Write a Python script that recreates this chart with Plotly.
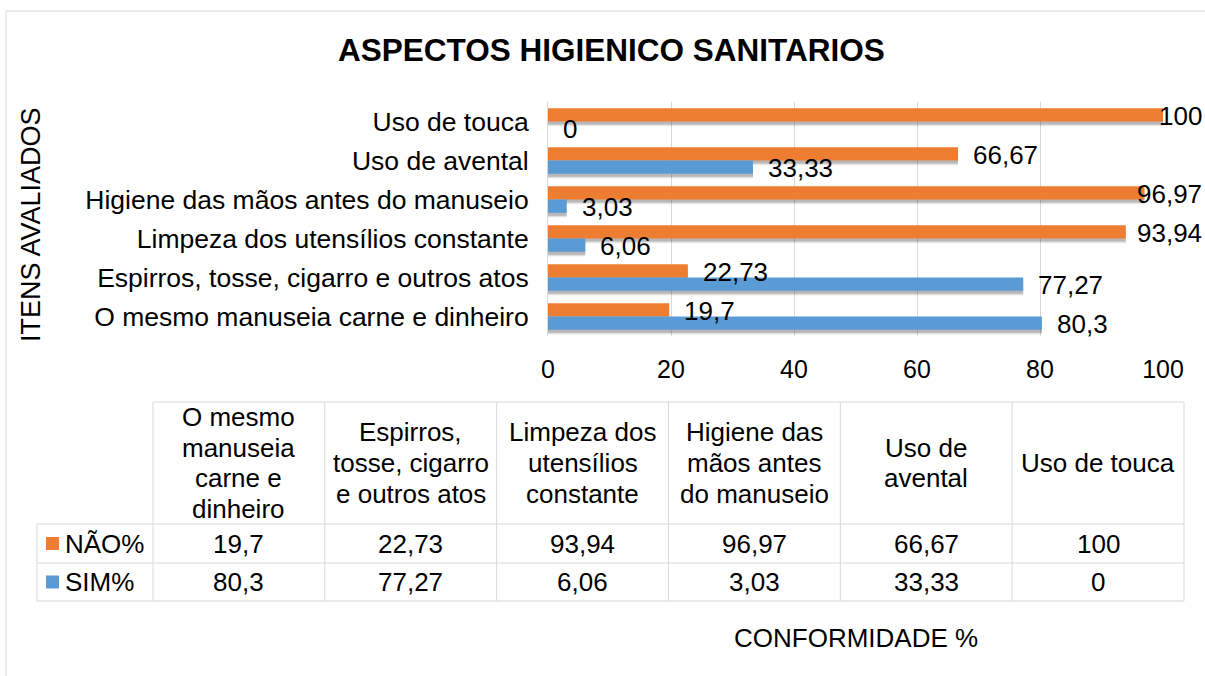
import plotly.graph_objects as go

# ---------------- data ----------------
categories = [
    "O mesmo manuseia carne e dinheiro",
    "Espirros, tosse, cigarro e outros atos",
    "Limpeza dos utensílios constante",
    "Higiene das mãos antes do manuseio",
    "Uso de avental",
    "Uso de touca",
]
header_labels = [
    "O mesmo<br>manuseia<br>carne e<br>dinheiro",
    "Espirros,<br>tosse, cigarro<br>e outros atos",
    "Limpeza dos<br>utensílios<br>constante",
    "Higiene das<br>mãos antes<br>do manuseio",
    "Uso de<br>avental",
    "Uso de touca",
]
nao_values = [19.7, 22.73, 93.94, 96.97, 66.67, 100]
sim_values = [80.3, 77.27, 6.06, 3.03, 33.33, 0]
series_names = ["NÃO%", "SIM%"]
x_ticks = [0, 20, 40, 60, 80, 100]
title_text = "ASPECTOS HIGIENICO SANITARIOS"
y_title = "ITENS AVALIADOS"
x_title = "CONFORMIDADE %"

# ---------------- styling / layout ----------------
W, H = 1205, 676
PL, PR, PT, PB = 548, 1163, 102, 336
FONT = "Liberation Sans, Arial, sans-serif"
ORANGE = "#ED7D31"
BLUE = "#5B9BD5"
GRID = "#D9D9D9"
TXT = "#000000"
BARGAP = 0.318
BAR_W = (1 - BARGAP) / 2          # thickness of one bar, in category units
N = len(categories)
cat_px = (PB - PT) / N
SHADOW_SHIFT = 3.0 / cat_px       # soft drop shadow 3 px below the bars


def fmt(v):
    return f"{v:g}".replace(".", ",")


def px(x):
    return (x - PL) / (PR - PL)


def py(y):
    return (PB - y) / (PB - PT)


fig = go.Figure()

# drop shadows (base subplot, y range shifted so they sit a few px lower)
for vals, off in ((nao_values, 0.0), (sim_values, -BAR_W)):
    for grow, alpha in ((0.0, 0.16), (0.05, 0.09), (0.10, 0.05)):
        fig.add_trace(go.Bar(y=categories, x=vals, orientation="h", yaxis="y",
                             width=BAR_W + grow, offset=off - grow / 2,
                             marker=dict(color=f"rgba(0,0,0,{alpha})", line=dict(width=0)),
                             hoverinfo="skip", showlegend=False))

# the bars themselves (overlay subplot, drawn on top)
fig.add_trace(go.Bar(y=categories, x=nao_values, orientation="h", yaxis="y2",
                     width=BAR_W, offset=0.0, name=series_names[0],
                     marker=dict(color=ORANGE, line=dict(width=0)), showlegend=False))
fig.add_trace(go.Bar(y=categories, x=sim_values, orientation="h", yaxis="y2",
                     width=BAR_W, offset=-BAR_W, name=series_names[1],
                     marker=dict(color=BLUE, line=dict(width=0)), showlegend=False))

annotations = []
shapes = []

# data labels (outside end, kept inside the chart area like Excel does)
bar_half = BAR_W / 2 * cat_px
LABEL_SIZE = 26
char_w = {",": 0.278}
for vals, sign in ((nao_values, 1), (sim_values, -1)):
    for c, v in zip(categories, vals):
        t = fmt(v)
        wpx = sum(char_w.get(ch, 0.556) for ch in t) * LABEL_SIZE
        start = PL + v / 100 * (PR - PL) + 14
        common = dict(y=c, yref="y2", text=t, yanchor="middle", showarrow=False,
                      yshift=sign * bar_half - 1,
                      font=dict(family=FONT, size=LABEL_SIZE, color=TXT))
        if start + wpx > W - 2:
            annotations.append(dict(x=px(W - 1), xref="paper", xanchor="right", **common))
        else:
            annotations.append(dict(x=v, xref="x", xanchor="left", xshift=13, **common))

# title / axis titles
annotations.append(dict(x=px(611), y=py(50), xref="paper", yref="paper", text=f"<b>{title_text}</b>",
                        showarrow=False, xanchor="center", yanchor="middle",
                        font=dict(family=FONT, size=31.5, color=TXT)))
annotations.append(dict(x=px(31), y=py(225), xref="paper", yref="paper", text=y_title, textangle=-90,
                        showarrow=False, xanchor="center", yanchor="middle",
                        font=dict(family=FONT, size=27, color=TXT)))
annotations.append(dict(x=px((PL + PR) / 2), y=py(638), xref="paper", yref="paper", text=x_title,
                        showarrow=False, xanchor="center", yanchor="middle",
                        font=dict(family=FONT, size=26, color=TXT)))

# ---------- data table ----------
T_TOP, T_HB, T_R1, T_BOT = 402, 524, 563, 601
T_LEG, T_X0, T_X1 = 37, 153, 1184
colw = (T_X1 - T_X0) / N
TBL_SIZE = 26
LINE_H = 30.5


def line(x0, y0, x1, y1, color=GRID):
    shapes.append(dict(type="line", xref="paper", yref="paper", x0=px(x0), y0=py(y0),
                       x1=px(x1), y1=py(y1), line=dict(color=color, width=1)))


line(T_X0, T_TOP, T_X1, T_TOP)
for yy in (T_HB, T_R1, T_BOT):
    line(T_LEG, yy, T_X1, yy)
line(T_LEG, T_HB, T_LEG, T_BOT)
for j in range(N + 1):
    xx = T_X0 + j * colw
    line(xx, T_TOP, xx, T_BOT)

hmid = (T_TOP + T_HB) / 2
for j, lab in enumerate(header_labels):
    cx = T_X0 + (j + 0.5) * colw
    parts = lab.split("<br>")
    n = len(parts)
    for k, part in enumerate(parts):
        yy = hmid + (k - (n - 1) / 2) * LINE_H
        annotations.append(dict(x=px(cx), y=py(yy), xref="paper", yref="paper", text=part,
                                showarrow=False, xanchor="center", yanchor="middle",
                                font=dict(family=FONT, size=TBL_SIZE, color=TXT)))

rows = [(series_names[0], nao_values, ORANGE), (series_names[1], sim_values, BLUE)]
row_bounds = [(T_HB, T_R1), (T_R1, T_BOT)]
for (name, vals, col), (r0, r1) in zip(rows, row_bounds):
    cy = (r0 + r1) / 2
    shapes.append(dict(type="rect", xref="paper", yref="paper", x0=px(46), x1=px(59),
                       y0=py(cy - 6.5), y1=py(cy + 6.5), fillcolor=col, line=dict(width=0)))
    annotations.append(dict(x=px(63), y=py(cy), xref="paper", yref="paper", text=name,
                            showarrow=False, xanchor="left", yanchor="middle",
                            font=dict(family=FONT, size=TBL_SIZE, color=TXT)))
    for j, v in enumerate(vals):
        cx = T_X0 + (j + 0.5) * colw
        annotations.append(dict(x=px(cx), y=py(cy), xref="paper", yref="paper", text=fmt(v),
                                showarrow=False, xanchor="center", yanchor="middle",
                                font=dict(family=FONT, size=TBL_SIZE, color=TXT)))

# outer chart border (left & top visible)
line(6, 11, 6, H + 5)
line(6, 11, W + 5, 11)

fig.update_layout(
    width=W, height=H,
    margin=dict(l=PL, r=W - PR, t=PT, b=H - PB, pad=0),
    paper_bgcolor="white", plot_bgcolor="white",
    barmode="overlay",
    font=dict(family=FONT, color=TXT),
    xaxis=dict(range=[0, 100], tickvals=x_ticks, ticktext=[fmt(v) for v in x_ticks],
               showgrid=True, gridcolor=GRID, gridwidth=1, zeroline=False, showline=False,
               ticks="", ticklabelstandoff=16, tickfont=dict(family=FONT, size=25, color=TXT),
               fixedrange=True),
    yaxis=dict(categoryorder="array", categoryarray=categories, type="category",
               range=[-0.5 + SHADOW_SHIFT, N - 0.5 + SHADOW_SHIFT],
               showgrid=False, zeroline=False, showline=False, showticklabels=False,
               ticks="", fixedrange=True),
    yaxis2=dict(categoryorder="array", categoryarray=categories, type="category",
                overlaying="y", side="left", range=[-0.5, N - 0.5],
                showgrid=False, zeroline=False, showline=True, linecolor=GRID, linewidth=1,
                ticks="", ticklabelstandoff=13, tickfont=dict(family=FONT, size=26.5, color=TXT),
                fixedrange=True),
    annotations=annotations,
    shapes=shapes,
)

fig.write_html("out.html", config={"displayModeBar": False})

# remove the default page margin so the figure sits at the window's top-left corner
with open("out.html", encoding="utf-8") as f:
    html = f.read()
html = html.replace("<head>", "<head><style>html,body{margin:0;padding:0;overflow:hidden;}</style>", 1)
with open("out.html", "w", encoding="utf-8") as f:
    f.write(html)
